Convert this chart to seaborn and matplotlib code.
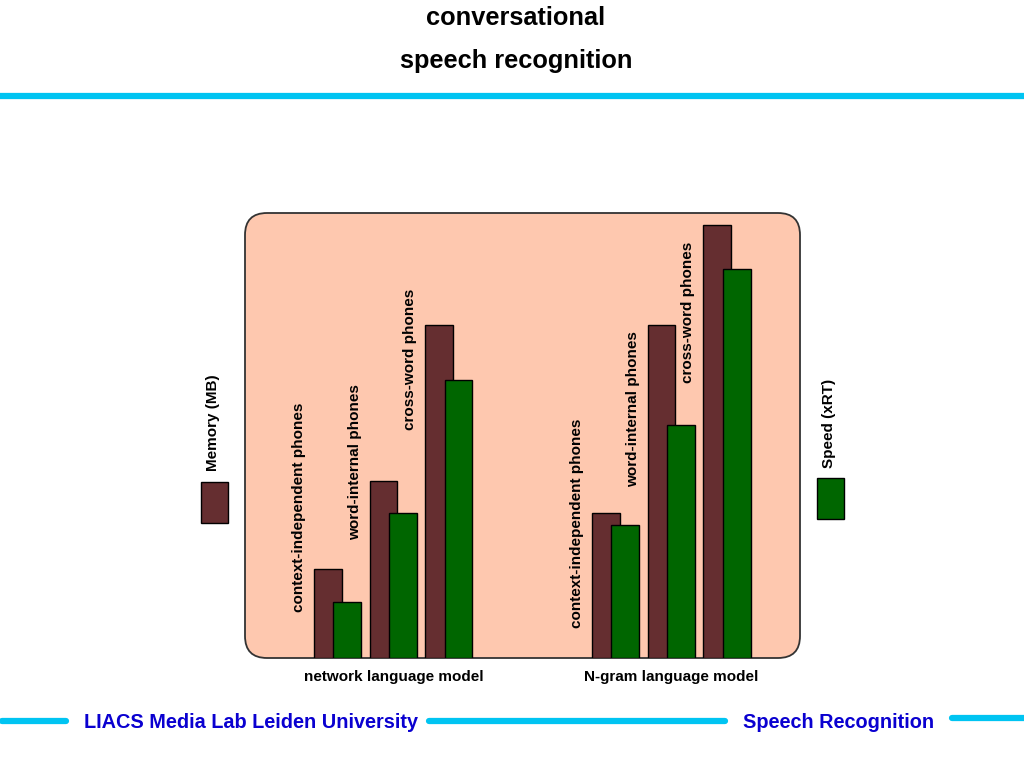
import matplotlib
matplotlib.use("Agg")
import matplotlib.pyplot as plt
from matplotlib.patches import FancyBboxPatch
import seaborn as sns
import numpy as np

# values (no axis in the original, so units are bar heights)
groups = ["network language model", "N-gram language model"]
phone_models = ["context-independent phones", "word-internal phones", "cross-word phones"]
memory_mb = [89, 177, 333, 145, 333, 433]
speed_xrt = [56, 145, 278, 133, 233, 389]
label_bottoms = [46, 118, 228, 30, 171, 275]

BROWN = "#652e30"
GREEN = "#006600"
PEACH = "#fec8af"
CYAN = "#00c4f2"
BLUE = "#0a00d0"

sns.set_theme(style="white")
plt.rcParams["font.family"] = ["Liberation Sans", "DejaVu Sans"]
plt.rcParams["font.weight"] = "bold"
plt.rcParams["text.color"] = "black"

fig = plt.figure(figsize=(10.24, 7.68), dpi=100)

# page decoration in pixel coordinates
bg = fig.add_axes([0, 0, 1, 1])
bg.set_xlim(0, 1024)
bg.set_ylim(768, 0)
bg.axis("off")
bg.text(516, 18, "conversational", ha="center", va="center", fontsize=18.3)
bg.text(516, 61, "speech recognition", ha="center", va="center", fontsize=18.3)
bg.plot([0, 1024], [96, 96], color=CYAN, lw=4.5, solid_capstyle="butt")
for x0, x1, y in [(2, 66, 721), (429, 725, 721), (952, 1024, 718)]:
    bg.plot([x0, x1], [y, y], color=CYAN, lw=4.5, solid_capstyle="round")
bg.text(84, 723, "LIACS Media Lab Leiden University", ha="left", va="center", fontsize=14.3, color=BLUE)
bg.text(934, 723, "Speech Recognition", ha="right", va="center", fontsize=14.3, color=BLUE)

box = FancyBboxPatch((245, 213), 555, 445, boxstyle="round,pad=0,rounding_size=22",
                     facecolor=PEACH, edgecolor="#333333", lw=1.3)
bg.add_patch(box)

# legend swatches
bg.add_patch(plt.Rectangle((201, 482), 27, 41, facecolor=BROWN, edgecolor="black", lw=1))
bg.text(213, 423, "Memory (MB)", rotation=90, ha="center", va="center", fontsize=11)
bg.add_patch(plt.Rectangle((817, 478), 27, 41, facecolor=GREEN, edgecolor="black", lw=1))
bg.text(829, 423, "Speed (xRT)", rotation=90, ha="center", va="center", fontsize=11)

# chart axes laid over the box
ax = fig.add_axes([245 / 1024, (768 - 658) / 768, 555 / 1024, 445 / 768])
ax.patch.set_alpha(0)

slots = np.array([0, 1, 2, 5, 6, 7], dtype=float)
offset = 0.35
sns.barplot(x=slots, y=memory_mb, native_scale=True, width=0.5, color=BROWN,
            saturation=1, edgecolor="black", linewidth=1, ax=ax)
sns.barplot(x=slots + offset, y=speed_xrt, native_scale=True, width=0.5, color=GREEN,
            saturation=1, edgecolor="black", linewidth=1, ax=ax)

labels = phone_models * len(groups)
for s, lab, yb in zip(slots, labels, label_bottoms):
    ax.text(s - 0.52, yb, lab, rotation=90, ha="center", va="bottom", fontsize=11)

for g, name in enumerate(groups):
    ax.text(1.18 + 5 * g, -19, name, ha="center", va="center", fontsize=11,
            clip_on=False)

ax.set_xlim(-1.49, 8.49)
ax.set_ylim(0, 445)
ax.axis("off")

fig.savefig("out.png", dpi=100)
